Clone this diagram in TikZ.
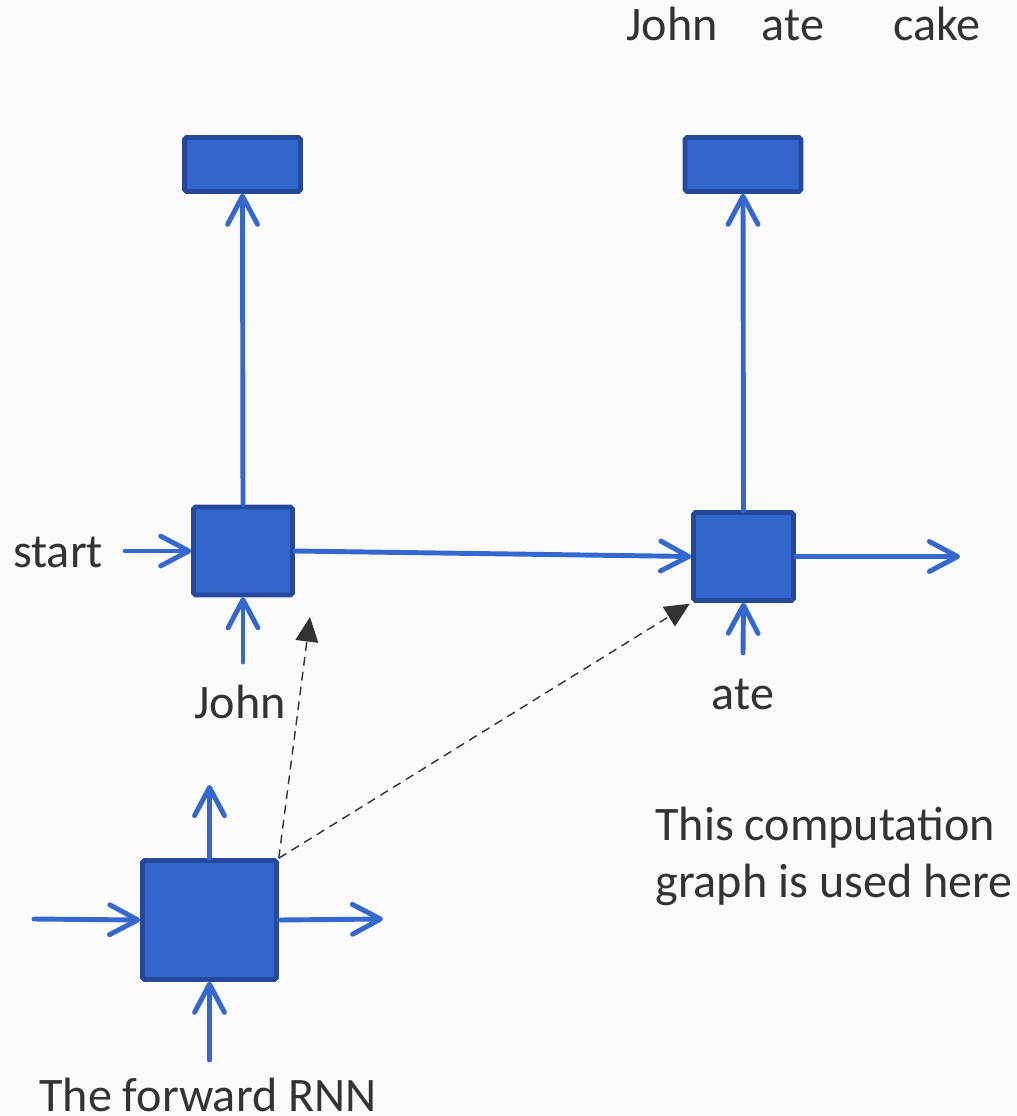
\documentclass[tikz,border=0pt]{standalone}
\usepackage{fontspec}
\setmainfont{Carlito}
\usetikzlibrary{arrows.meta}
\definecolor{cellfill}{HTML}{3366CC}
\definecolor{celledge}{HTML}{24489A}
\definecolor{flow}{HTML}{3468D0}
\definecolor{ink}{HTML}{333333}
\definecolor{paper}{HTML}{FAFAFA}
\tikzset{
  cell/.style={draw=celledge, fill=cellfill, line width=2.6pt, rounded corners=1pt, inner sep=0pt},
  flowarrow/.style={draw=flow, line width=2.8pt, line cap=round,
    -{Straight Barb[length=16pt, width=17pt, line width=2.8pt, round]}},
  link/.style={draw=ink, line width=0.8pt, dash pattern=on 5pt off 3.5pt,
    -{Triangle[length=14pt, width=13pt]}},
  word/.style={text=ink, font=\fontsize{27.4}{31}\selectfont, anchor=base, inner sep=0pt},
}
\begin{document}
\begin{tikzpicture}[x=0.02cm, y=-0.02cm]
  \useasboundingbox[fill=paper] (0,0) rectangle (1017,1116);

  % unrolled cells
  \node[cell, minimum width=1.98cm, minimum height=1.76cm] (a) at (243,551) {};
  \node[cell, minimum width=2.00cm, minimum height=1.76cm] (b) at (743.5,556.5) {};
  \node[cell, minimum width=2.32cm, minimum height=1.08cm] (ya) at (242.5,164.5) {};
  \node[cell, minimum width=2.32cm, minimum height=1.08cm] (yb) at (743,164.5) {};
  % the single recurrent cell
  \node[cell, minimum width=2.68cm, minimum height=2.38cm] (c) at (209.5,920) {};

  % free ends
  \coordinate (sin) at (125,551);
  \coordinate (xa) at (243,662);
  \coordinate (xb) at (743,653);
  \coordinate (hout) at (960,556.5);
  \coordinate (cup) at (209.5,785);
  \coordinate (cin) at (34,919);
  \coordinate (cout) at (383,919);
  \coordinate (cx) at (209.5,1060);
  \coordinate (ta) at (310,617);

  % labels
  \node[word] (w1) at (672,40) {John};
  \node[word] (w2) at (793,40) {ate};
  \node[word] (w3) at (937,40) {cake};
  \node[word] (ls) at (58,567) {start};
  \node[word] (lj) at (240,718) {John};
  \node[word] (le) at (743,709) {ate};
  \node[word, anchor=base west] (n1) at (655,840) {This computation};
  \node[word, anchor=base west] (n2) at (655,897) {graph is used here};
  \node[word] (lr) at (208,1111) {The forward RNN};

  % connections
  \draw[flowarrow] (a.north) -- (ya.south);
  \draw[flowarrow] (b.north) -- (yb.south);
  \draw[flowarrow] (sin) -- (a.west);
  \draw[flowarrow] (a.east) -- (b.west);
  \draw[flowarrow] (b.east) -- (hout);
  \draw[flowarrow] (xa) -- (a.south);
  \draw[flowarrow] (xb) -- (b.south);
  \draw[flowarrow] (c.north) -- (cup);
  \draw[flowarrow] (cin) -- (c.west);
  \draw[flowarrow] (c.east) -- (cout);
  \draw[flowarrow] (cx) -- (c.south);

  \draw[link] (c.north east) -- (ta);
  \draw[link, shorten >=1pt] (c.north east) -- (b.south west);
\end{tikzpicture}
\end{document}
